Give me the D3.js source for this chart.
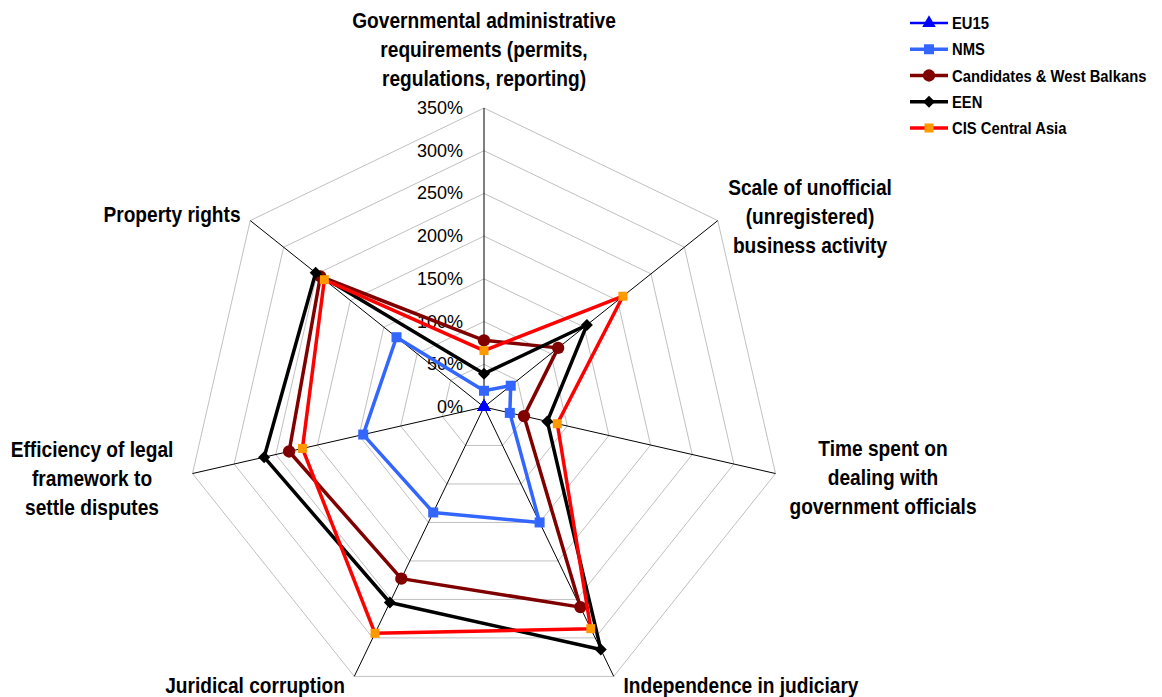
<!DOCTYPE html>
<html>
<head>
<meta charset="utf-8">
<script src="https://cdn.jsdelivr.net/npm/d3@7"></script>
<style>
  body { margin: 0; background: #fff; }
  svg { display: block; font-family: Arial, "Liberation Sans", sans-serif; }
</style>
</head>
<body>
<svg id="radar" width="1162" height="697"></svg>
<script>
// ---- data (values in %) ----
const axes = [
  ["Governmental administrative", "requirements (permits,", "regulations, reporting)"],
  ["Scale of unofficial", "(unregistered)", "business activity"],
  ["Time spent on", "dealing with", "government officials"],
  ["Independence in judiciary"],
  ["Juridical corruption"],
  ["Efficiency of legal", "framework to", "settle disputes"],
  ["Property rights"]
];
const seriesNames = ["EU15", "NMS", "Candidates & West Balkans", "EEN", "CIS Central Asia"];
const eu15       = [0, 0, 0, 0, 0, 0, 0];
const nms        = [19, 40, 31, 150, 137, 145, 131];
const candidates = [78, 111, 48, 260, 223, 234, 245];
const een        = [39, 154, 76, 315, 254, 264, 252];
const cis        = [66, 208, 88, 288, 294, 218, 239];
const tickValues = [0, 50, 100, 150, 200, 250, 300, 350];

// styles per series (diamond = square turned 45deg)
const styles = [
  { line: "#0000ff", fill: "#0000ff", sym: d3.symbolTriangle, size: 80, rot: 0, w: 2.5 },
  { line: "#3366ff", fill: "#3366ff", sym: d3.symbolSquare, size: 100, rot: 0, w: 3.5 },
  { line: "#800000", fill: "#800000", sym: d3.symbolCircle, size: 120, rot: 0, w: 3.5 },
  { line: "#000000", fill: "#000000", sym: d3.symbolSquare, size: 72, rot: 45, w: 3.5 },
  { line: "#ff0000", fill: "#ff9900", sym: d3.symbolSquare, size: 81, rot: 0, w: 3.5 }
];
const allSeries = [eu15, nms, candidates, een, cis];

const svg = d3.select("#radar");
const cx = 484, cy = 407;
const r = d3.scaleLinear().domain([0, 350]).range([0, 299]);
const angle = d3.scaleLinear().domain([0, axes.length]).range([0, 2 * Math.PI]);

function pt(i, v) {
  const a = angle(i);
  return [cx + r(v) * Math.sin(a), cy - r(v) * Math.cos(a)];
}

// grid rings
const g = svg.append("g");
g.selectAll("polygon.ring")
  .data(tickValues.filter(d => d > 0))
  .join("polygon")
  .attr("class", "ring")
  .attr("points", d => axes.map((_, i) => pt(i, d).join(",")).join(" "))
  .attr("fill", "none")
  .attr("stroke", "#c0c0c0")
  .attr("stroke-width", 1);

// spokes
g.selectAll("line.spoke")
  .data(axes)
  .join("line")
  .attr("class", "spoke")
  .attr("x1", cx).attr("y1", cy)
  .attr("x2", (d, i) => pt(i, 350)[0])
  .attr("y2", (d, i) => pt(i, 350)[1])
  .attr("stroke", "#000")
  .attr("stroke-width", 1);

// tick labels
g.selectAll("text.tick")
  .data(tickValues)
  .join("text")
  .attr("class", "tick")
  .attr("x", cx - 21)
  .attr("y", d => cy - r(d) + 6)
  .attr("text-anchor", "end")
  .attr("font-size", 18)
  .attr("fill", "#000")
  .text(d => d + "%");

// axis labels (text is a bit condensed in the reference)
const labelPos = [
  [484, 28], [810, 195], [883, 456], [741, 693], [255, 693], [92, 457], [172, 222]
];
axes.forEach((lines, i) => {
  const t = svg.append("text")
    .attr("transform", `translate(${labelPos[i][0]},${labelPos[i][1]}) scale(0.87,1)`)
    .attr("text-anchor", "middle")
    .attr("font-size", 22)
    .attr("font-weight", "bold")
    .attr("fill", "#000");
  lines.forEach((s, k) => {
    t.append("tspan").attr("x", 0).attr("dy", k === 0 ? 0 : 29).text(s);
  });
});

// series
const lineGen = d3.line().x(d => d[0]).y(d => d[1]).curve(d3.curveLinearClosed);
allSeries.forEach((vals, s) => {
  const st = styles[s];
  const pts = vals.map((v, i) => pt(i, v));
  svg.append("path")
    .datum(pts)
    .attr("d", lineGen)
    .attr("fill", "none")
    .attr("stroke", st.line)
    .attr("stroke-width", st.w)
    .attr("stroke-linejoin", "round");
  svg.append("g").selectAll("path")
    .data(pts)
    .join("path")
    .attr("transform", d => `translate(${d[0]},${d[1]}) rotate(${st.rot})`)
    .attr("d", d3.symbol().type(st.sym).size(st.size))
    .attr("fill", st.fill);
});

// legend
const leg = svg.append("g");
const ly = d3.scaleLinear().domain([0, 4]).range([23, 128]);
seriesNames.forEach((name, s) => {
  const st = styles[s];
  const y = ly(s);
  leg.append("line")
    .attr("x1", 910).attr("x2", 948).attr("y1", y).attr("y2", y)
    .attr("stroke", st.line).attr("stroke-width", st.w);
  leg.append("path")
    .attr("transform", `translate(929,${y}) rotate(${st.rot})`)
    .attr("d", d3.symbol().type(st.sym).size(st.size))
    .attr("fill", st.fill);
  leg.append("text")
    .attr("transform", `translate(952,${y + 6}) scale(0.87,1)`)
    .attr("font-size", 17)
    .attr("font-weight", "bold")
    .attr("fill", "#000")
    .text(name);
});
</script>
</body>
</html>
